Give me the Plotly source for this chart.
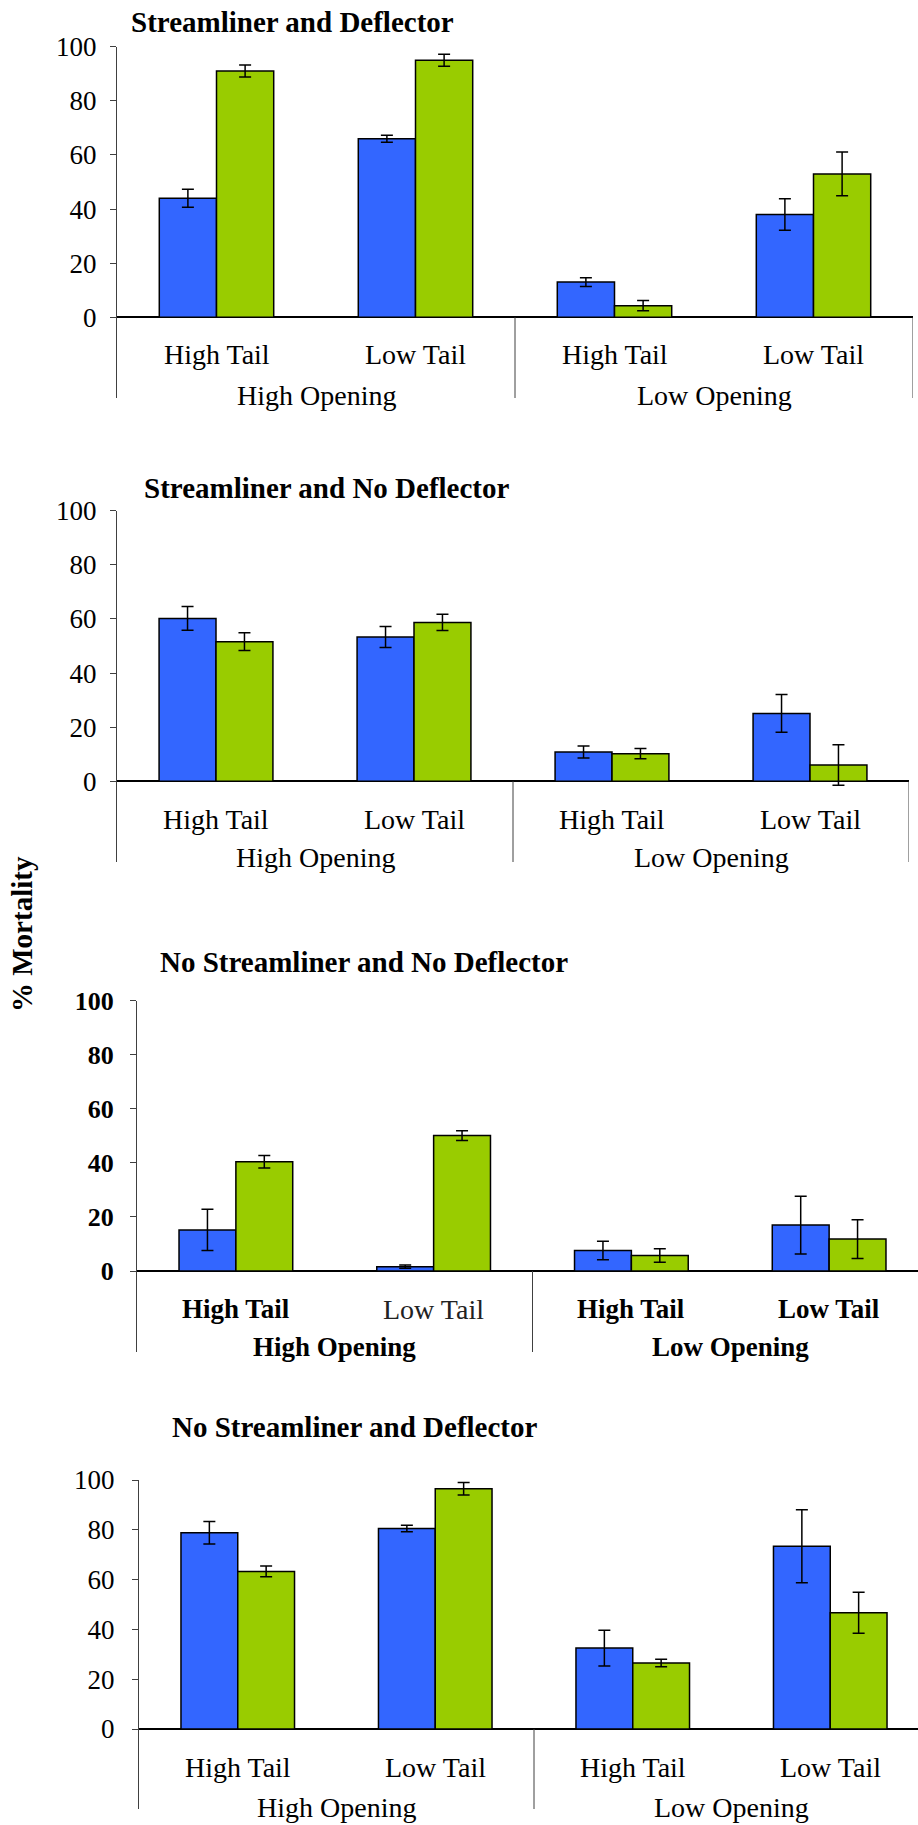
import plotly.graph_objects as go

W, H = 918, 1825

categories = ["High Tail", "Low Tail", "High Tail", "Low Tail"]
groups = ["High Opening", "Low Opening"]
titles = [
    "Streamliner and Deflector",
    "Streamliner and No Deflector",
    "No Streamliner and No Deflector",
    "No Streamliner and Deflector",
]

# % mortality per panel (blue series, green series) with error half-widths
blue_1 = [44.0, 66.0, 13.0, 38.0]
blue_1_err = [3.3, 1.3, 1.6, 5.8]
green_1 = [91.0, 95.0, 4.3, 53.0]
green_1_err = [2.2, 2.2, 1.9, 8.1]

blue_2 = [60.2, 53.3, 10.8, 25.1]
blue_2_err = [4.4, 3.9, 2.2, 7.0]
green_2 = [51.6, 58.7, 10.2, 6.0]
green_2_err = [3.3, 3.0, 1.9, 7.5]

blue_3 = [15.2, 1.6, 7.6, 17.0]
blue_3_err = [7.6, 0.6, 3.4, 10.7]
green_3 = [40.4, 50.1, 5.7, 11.8]
green_3_err = [2.3, 1.8, 2.5, 7.2]

blue_4 = [78.8, 80.5, 32.5, 73.4]
blue_4_err = [4.5, 1.3, 7.2, 14.7]
green_4 = [63.3, 96.5, 26.5, 46.7]
green_4_err = [2.2, 2.5, 1.5, 8.2]

y_ticks = [0, 20, 40, 60, 80, 100]

BLUE = "#3366FF"
GREEN = "#99CC00"
FONT = '"Liberation Serif", "Times New Roman", Times, "DejaVu Serif", serif'

series = [
    (blue_1, blue_1_err, green_1, green_1_err),
    (blue_2, blue_2_err, green_2, green_2_err),
    (blue_3, blue_3_err, green_3, green_3_err),
    (blue_4, blue_4_err, green_4, green_4_err),
]

# panel geometry in pixels: left axis, right edge, top (100), zero, bottom of dividers,
# title left x, title y, category-label y, group-label y, width of one category,
# gap between tick and tick label
panels = [
    dict(left=117, right=913, top=46.7, zero=317.3, bottom=398, tx=129, ty=22, cy=355, gy=395, cat=199.0, so=8),
    dict(left=117, right=909, top=510.7, zero=781.3, bottom=862, tx=142, ty=488, cy=820, gy=858, cat=198.0, so=8),
    dict(left=137, right=918, top=1000.7, zero=1271, bottom=1352, tx=158, ty=962, cy=1309, gy=1347, cat=197.75, so=11),
    dict(left=139, right=918, top=1480, zero=1729, bottom=1809, tx=170, ty=1427, cy=1767, gy=1807, cat=197.5, so=12),
]

# label weights per panel (the third panel is set heavier, except one label)
cat_bold = [
    [False] * 4,
    [False] * 4,
    [True, False, True, True],
    [False] * 4,
]
group_bold = [False, False, True, False]
tick_bold = [False, False, True, False]


def px_x(x):
    return x / W


def px_y(y):
    return 1 - y / H


fig = go.Figure()
annotations = []
shapes = []
x_pos = list(range(len(categories)))

for i, (p, (b, be, g, ge)) in enumerate(zip(panels, series), start=1):
    xa = "x" if i == 1 else f"x{i}"
    ya = "y" if i == 1 else f"y{i}"
    fig.add_trace(go.Bar(
        x=x_pos, y=b, xaxis=xa, yaxis=ya, marker_color=BLUE,
        marker_line=dict(color="black", width=1.5),
        error_y=dict(type="data", array=be, visible=True, color="black", thickness=1.5, width=6),
        showlegend=False,
    ))
    fig.add_trace(go.Bar(
        x=x_pos, y=g, xaxis=xa, yaxis=ya, marker_color=GREEN,
        marker_line=dict(color="black", width=1.5),
        error_y=dict(type="data", array=ge, visible=True, color="black", thickness=1.5, width=6),
        showlegend=False,
    ))

    unit = (p["zero"] - p["top"]) / 100.0
    y_low = -(p["bottom"] - p["zero"]) / unit
    x_hi = -0.5 + (p["right"] - p["left"]) / p["cat"]

    xkey = "xaxis" if i == 1 else f"xaxis{i}"
    ykey = "yaxis" if i == 1 else f"yaxis{i}"
    fig.update_layout(**{
        xkey: dict(
            domain=[px_x(p["left"]), px_x(p["right"])],
            range=[-0.5, x_hi], anchor=ya, automargin=False,
            showline=False, showgrid=False, zeroline=False,
            showticklabels=False, ticks="",
        ),
        ykey: dict(
            domain=[px_y(p["bottom"]), px_y(p["top"])],
            range=[y_low, 100], anchor=xa, automargin=False,
            tickvals=y_ticks, ticks="outside", ticklen=6, tickcolor="#404040",
            tickfont=dict(family=FONT, size=27 if not tick_bold[i - 1] else 26, color="black",
                          weight="bold" if tick_bold[i - 1] else "normal"),
            ticklabelstandoff=p["so"],
            showline=True, linecolor="#404040", linewidth=1,
            showgrid=False, zeroline=True, zerolinecolor="black", zerolinewidth=2,
        ),
    })

    # group dividers below the baseline
    for xv in ([1.5, 3.5] if i <= 2 else [1.5]):
        shapes.append(dict(type="line", xref=xa, yref=ya, x0=xv, x1=xv, y0=0, y1=y_low,
                           line=dict(color="#404040", width=1)))

    annotations.append(dict(
        text=titles[i - 1], xref="paper", yref="paper",
        x=px_x(p["tx"]), y=px_y(p["ty"]), xanchor="left", yanchor="middle",
        showarrow=False, font=dict(family=FONT, size=29, color="black", weight="bold"),
    ))
    for k, c in enumerate(categories):
        bold = cat_bold[i - 1][k]
        annotations.append(dict(
            text=c, xref=xa, yref="paper", x=k, y=px_y(p["cy"]),
            xanchor="center", yanchor="middle", showarrow=False,
            font=dict(family=FONT, size=27 if bold else 28,
                      color="black" if (bold or i != 3) else "#222222",
                      weight="bold" if bold else "normal"),
        ))
    for k, gname in enumerate(groups):
        annotations.append(dict(
            text=gname, xref=xa, yref="paper", x=0.5 + 2 * k, y=px_y(p["gy"]),
            xanchor="center", yanchor="middle", showarrow=False,
            font=dict(family=FONT, size=28 if not group_bold[i - 1] else 27, color="black",
                      weight="bold" if group_bold[i - 1] else "normal"),
        ))

annotations.append(dict(
    text="% Mortality", xref="paper", yref="paper", x=px_x(22), y=px_y(934),
    xanchor="center", yanchor="middle", textangle=-90, showarrow=False,
    font=dict(family=FONT, size=29, color="black", weight="bold"),
))

fig.update_layout(
    width=W, height=H,
    margin=dict(l=0, r=0, t=0, b=0, autoexpand=False),
    paper_bgcolor="white", plot_bgcolor="white",
    barmode="group", bargap=0.425, bargroupgap=0,
    annotations=annotations, shapes=shapes,
)

fig.write_html("out.html")
